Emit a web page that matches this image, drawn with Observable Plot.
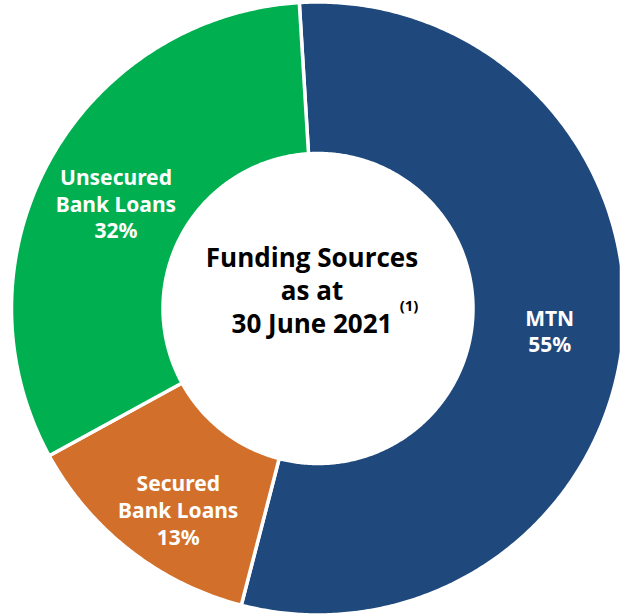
<!DOCTYPE html>
<html><head><meta charset="utf-8">
<script src="https://cdn.jsdelivr.net/npm/d3@7"></script>
<script src="https://cdn.jsdelivr.net/npm/@observablehq/plot@0.6"></script>
<style>html,body{margin:0;padding:0;background:#fff} svg{display:block}</style>
</head><body><div id="chart"></div>
<script>
// ---- data ----
const categories = ["MTN", "Secured Bank Loans", "Unsecured Bank Loans"];
const labelNames = ["MTN", "Secured\nBank Loans", "Unsecured\nBank Loans"];
const shares = [55, 13, 32];
const colors = ["#1F497D", "#D2702B", "#00B050"];
const centerTitle = ["Funding Sources", "as at", "30 June 2021"];
const footnote = "(1)";

// ---- geometry ----
const W = 621, H = 615;
const cx = 317.5, cy = 308, R = 306.5, r = 155, startDeg = -3.5;
const total = d3.sum(shares);
let acc = 0;
const slices = categories.map((c, i) => {
  const a0 = startDeg + acc / total * 360;
  acc += shares[i];
  const a1 = startDeg + acc / total * 360;
  return {c, i, a0, a1, v: shares[i], label: labelNames[i] + "\n" + shares[i] + "%"};
});
function pt(rad, deg) {
  const t = deg * Math.PI / 180;
  return [cx + rad * Math.sin(t), cy - rad * Math.cos(t)];
}
function ring(s) {
  const pts = [];
  const n = Math.ceil((s.a1 - s.a0) * 2);
  for (let k = 0; k <= n; k++) pts.push(pt(R, s.a0 + (s.a1 - s.a0) * k / n));
  for (let k = n; k >= 0; k--) pts.push(pt(r, s.a0 + (s.a1 - s.a0) * k / n));
  pts.push(pts[0]);
  return pts;
}
const features = slices.map(s => ({type: "Feature", properties: s, geometry: {type: "Polygon", coordinates: [ring(s)]}}));
const labelPos = slices.map(s => {
  const [x, y] = pt((R + r) / 2, (s.a0 + s.a1) / 2);
  const adj = [[2, 0], [2, 19], [0, 6]][s.i];
  return {...s, x: x + adj[0], y: y + adj[1]};
});

const chart = Plot.plot({
  width: W, height: H,
  margin: 0,
  projection: {type: "identity", domain: {type: "MultiPoint", coordinates: [[0, 0], [W, H]]}, inset: 0},
  color: {domain: categories, range: colors},
  marks: [
    Plot.geo(features, {fill: d => d.properties.c, stroke: "white", strokeWidth: 3.5}),
    Plot.text(labelPos, {x: "x", y: "y", text: "label", fill: "white", fontWeight: "bold",
      fontSize: 21, lineHeight: 1.27, fontFamily: "'Noto Sans', sans-serif"}),
    Plot.text([centerTitle.join("\n")], {x: () => cx - 6, y: () => cy - 19, text: d => d, fill: "black",
      fontWeight: "bold", fontSize: 26, lineHeight: 1.28, fontFamily: "'Open Sans', sans-serif"}),
    Plot.text([footnote], {x: () => cx + 91, y: () => cy - 2, text: d => d, fill: "black",
      fontWeight: "bold", fontSize: 15, fontFamily: "'Open Sans', sans-serif"})
  ]
});
document.getElementById("chart").appendChild(chart);
</script>
</body></html>
